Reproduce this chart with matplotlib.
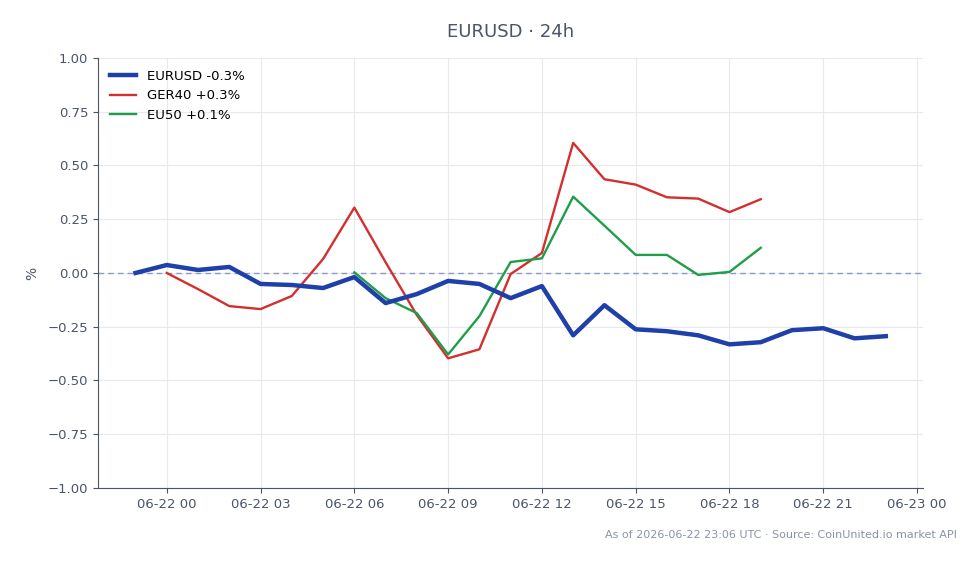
import numpy as np
import pandas as pd
import matplotlib
matplotlib.use("Agg")
import matplotlib.pyplot as plt
import matplotlib.dates as mdates

# hourly % change, 06-21 23:00 .. 06-22 23:00
eurusd_times = pd.date_range("2026-06-21 23:00", "2026-06-22 23:00", freq="h")
eurusd = [0.0, 0.037, 0.014, 0.028, -0.051, -0.056, -0.070, -0.019, -0.140,
          -0.098, -0.037, -0.051, -0.117, -0.061, -0.290, -0.150, -0.262,
          -0.271, -0.290, -0.332, -0.322, -0.266, -0.257, -0.304, -0.294]

ger40_times = pd.date_range("2026-06-22 00:00", "2026-06-22 19:00", freq="h")
ger40 = [0.0, -0.075, -0.154, -0.168, -0.107, 0.065, 0.304, 0.050, -0.196,
         -0.397, -0.355, -0.005, 0.093, 0.605, 0.436, 0.411, 0.352, 0.346,
         0.283, 0.343]

eu50_times = pd.date_range("2026-06-22 06:00", "2026-06-22 19:00", freq="h")
eu50 = [0.003, -0.117, -0.187, -0.379, -0.201, 0.051, 0.068, 0.355, 0.220,
        0.084, 0.084, -0.009, 0.005, 0.117]

labels = ["EURUSD -0.3%", "GER40 +0.3%", "EU50 +0.1%"]

txt = "#4a5568"
fig = plt.figure(figsize=(9.79, 5.64), dpi=100)
ax = fig.add_axes([0.1001, 0.1348, 0.843, 0.7624])

ax.plot(eurusd_times, eurusd, color="#1e40a8", lw=3.2, label=labels[0], zorder=4)
ax.plot(ger40_times, ger40, color="#d32f2f", lw=1.7, label=labels[1], zorder=3)
ax.plot(eu50_times, eu50, color="#1f9e4a", lw=1.7, label=labels[2], zorder=3)
ax.axhline(0, color="#8a9bbf", lw=1, ls=(0, (4, 3)), zorder=2)

ax.set_ylim(-1, 1)
ax.set_yticks(np.arange(-1, 1.01, 0.25))
ax.xaxis.set_major_locator(mdates.HourLocator(byhour=range(0, 24, 3)))
ax.xaxis.set_major_formatter(mdates.DateFormatter("%m-%d %H"))
ax.grid(True, color="#e6e9ef", lw=0.8)
ax.set_axisbelow(True)

for s in ["top", "right"]:
    ax.spines[s].set_visible(False)
for s in ["left", "bottom"]:
    ax.spines[s].set_color(txt)
ax.tick_params(colors=txt, labelsize=9.5)
ax.set_ylabel("%", color=txt, fontsize=10, labelpad=6)
ax.set_title("EURUSD · 24h", color=txt, fontsize=13, pad=15)

ax.legend(loc="upper left", frameon=False, fontsize=9.5)
fig.text(0.977, 0.051, "As of 2026-06-22 23:06 UTC · Source: CoinUnited.io market API",
         ha="right", va="center", color="#8a94a6", fontsize=8)

fig.savefig("out.png", dpi=100)
